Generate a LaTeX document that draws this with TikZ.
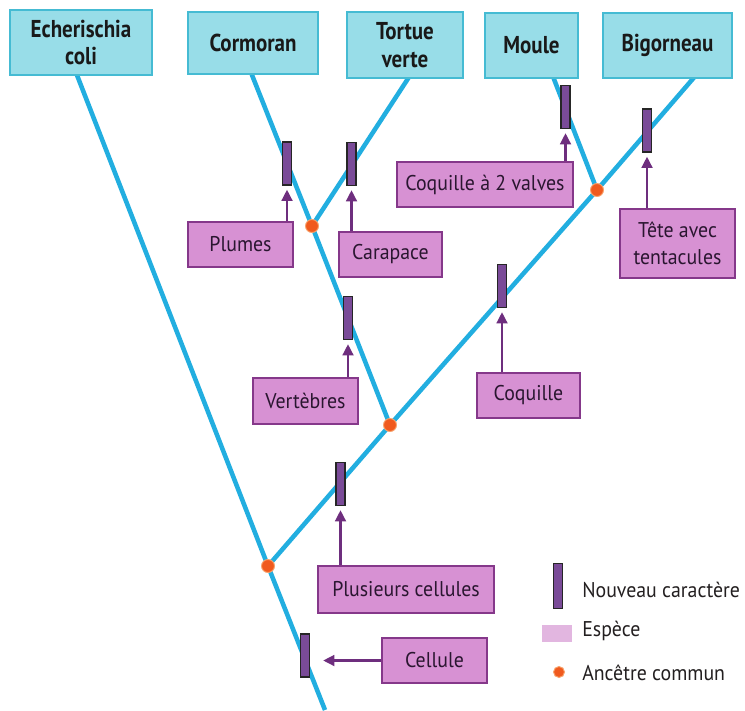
\documentclass[tikz,border=0pt]{standalone}
\usepackage{fontspec}
\setmainfont{PT Sans}
\newfontfamily\regf[FakeStretch=0.93]{PT Sans}
\newfontfamily\boldf[FakeStretch=0.86]{PT Sans}
\usetikzlibrary{arrows.meta}
\pgfdeclarelayer{bg}
\pgfsetlayers{bg,main}
\definecolor{cyfill}{HTML}{98DDE8}
\definecolor{cydraw}{HTML}{45BBD3}
\definecolor{cyline}{HTML}{22AEE0}
\definecolor{pkfill}{HTML}{D791D3}
\definecolor{pkdraw}{HTML}{85388A}
\definecolor{pklight}{HTML}{E2B6E0}
\definecolor{barfill}{HTML}{7A4B98}
\definecolor{arrcol}{HTML}{6E2E7E}
\definecolor{orng}{HTML}{F05A1E}
\definecolor{orngring}{HTML}{F8A46E}
\definecolor{pktext}{HTML}{2A1630}
\definecolor{lgtext}{HTML}{231F20}
\newcommand\pxl[1]{#1*0.75pt}
\tikzset{
  topbox/.style={draw=cydraw, fill=cyfill, line width=1.1pt, inner sep=0pt, align=center,
    text=black!90, font=\boldf\bfseries\fontsize{18.3}{20.5}\selectfont},
  pinkbox/.style={draw=pkdraw, fill=pkfill, line width=1.3pt, inner sep=0pt, align=center,
    text=pktext, font=\regf\fontsize{16}{20}\selectfont},
  charbar/.style={draw=black!85, fill=barfill, line width=0.9pt, inner sep=0pt,
    minimum width=\pxl{9}, minimum height=\pxl{43}},
  anc/.style={circle, fill=orng, draw=orngring, line width=0.7pt, inner sep=0pt, minimum size=\pxl{13}},
  tree/.style={draw=cyline, line width=3.4pt},
  arr/.style={draw=arrcol, line width=2pt, -{Triangle[width=8pt,length=8.5pt]}, shorten >=3pt},
  lgtxt/.style={anchor=west, inner sep=0pt, text=lgtext, font=\regf\fontsize{16}{20}\selectfont}
}
\begin{document}
\begin{tikzpicture}[x=0.75pt, y=-0.75pt]
\useasboundingbox (0,0) rectangle (745,710);
% species boxes
\node[topbox, minimum width=\pxl{142}, minimum height=\pxl{65}] (ecoli) at (81,42.5) {Echerischia\\coli};
\node[topbox, minimum width=\pxl{130}, minimum height=\pxl{62}] (cormoran) at (253,43) {Cormoran};
\node[topbox, minimum width=\pxl{116}, minimum height=\pxl{66}] (tortue) at (405,45) {Tortue\\verte};
\node[topbox, minimum width=\pxl{93}, minimum height=\pxl{65}] (moule) at (531.5,45.5) {Moule};
\node[topbox, minimum width=\pxl{129}, minimum height=\pxl{65}] (bigorneau) at (667.5,45.5) {Bigorneau};
% tree anchor points
\coordinate (ecb) at (75,70);
\coordinate (crb) at (250,70);
\coordinate (tvb) at (411,74);
\coordinate (mlb) at (552,74);
\coordinate (bgb) at (697,74);
\coordinate (bottom) at (325,710);
% common ancestors
\node[anc] (root) at (268,566) {};
\node[anc] (n2) at (390,425) {};
\node[anc] (n1) at (312,226) {};
\node[anc] (n3) at (597,190) {};
% tree lines
\begin{pgfonlayer}{bg}
\fill[white] (0,0) rectangle (745,710);
\draw[tree] (ecb) -- (root.center) -- (bottom);
\draw[tree] (root.center) -- (n2.center) -- (n3.center) -- (bgb);
\draw[tree] (crb) -- (n1.center) -- (n2.center);
\draw[tree] (tvb) -- (n1.center);
\draw[tree] (mlb) -- (n3.center);
\end{pgfonlayer}
% new characters
\node[charbar] (bplumes) at (287,163.5) {};
\node[charbar] (bcarapace) at (351.5,164) {};
\node[charbar] (bvalves) at (565.5,107) {};
\node[charbar] (btete) at (647,130.5) {};
\node[charbar] (bvertebres) at (348,318) {};
\node[charbar] (bcoquille) at (502,286) {};
\node[charbar] (bplusieurs) at (340.5,484) {};
\node[charbar] (bcellule) at (305,655.5) {};
% character labels
\node[pinkbox, minimum width=\pxl{105}, minimum height=\pxl{45}] (plumes) at (240.5,244.5) {Plumes};
\node[pinkbox, minimum width=\pxl{103}, minimum height=\pxl{45}] (carapace) at (390.5,254.5) {Carapace};
\node[pinkbox, minimum width=\pxl{176}, minimum height=\pxl{45}] (valves) at (485,184.5) {Coquille à 2 valves};
\node[pinkbox, minimum width=\pxl{115}, minimum height=\pxl{69}] (tete) at (677.5,243.5) {Tête avec\\tentacules};
\node[pinkbox, minimum width=\pxl{105}, minimum height=\pxl{46}] (vertebres) at (305.5,401) {Vertèbres};
\node[pinkbox, minimum width=\pxl{103}, minimum height=\pxl{45}] (coquille) at (528.5,395.5) {Coquille};
\node[pinkbox, minimum width=\pxl{176}, minimum height=\pxl{47}] (plusieurs) at (406,589.5) {Plusieurs cellules};
\node[pinkbox, minimum width=\pxl{105}, minimum height=\pxl{45}] (cellule) at (434.5,660.5) {Cellule};
% arrows
\draw[arr] (plumes.north -| bplumes) -- (bplumes.south);
\draw[arr] (carapace.north -| bcarapace) -- (bcarapace.south);
\draw[arr] (valves.north -| bvalves) -- (bvalves.south);
\draw[arr] (tete.north -| btete) -- (btete.south);
\draw[arr] (vertebres.north -| bvertebres) -- (bvertebres.south);
\draw[arr] (coquille.north -| bcoquille) -- (bcoquille.south);
\draw[arr] (plusieurs.north -| bplusieurs) -- (bplusieurs.south);
\draw[arr, shorten >=\pxl{13}] (cellule.west) -- (cellule.west -| bcellule.east);
% legend
\node[charbar, minimum height=\pxl{45}] (lgbar) at (558,586) {};
\node[lgtxt] (lgbart) at (582,590) {Nouveau caractère};
\node[fill=pklight, inner sep=0pt, minimum width=\pxl{30}, minimum height=\pxl{17}] (lgpink) at (557,633) {};
\node[lgtxt] (lgpinkt) at (582,631) {Espèce};
\node[anc, minimum size=\pxl{11}] (lgdot) at (559,672) {};
\node[lgtxt] (lgdott) at (582,673) {Ancêtre commun};
\end{tikzpicture}
\end{document}
